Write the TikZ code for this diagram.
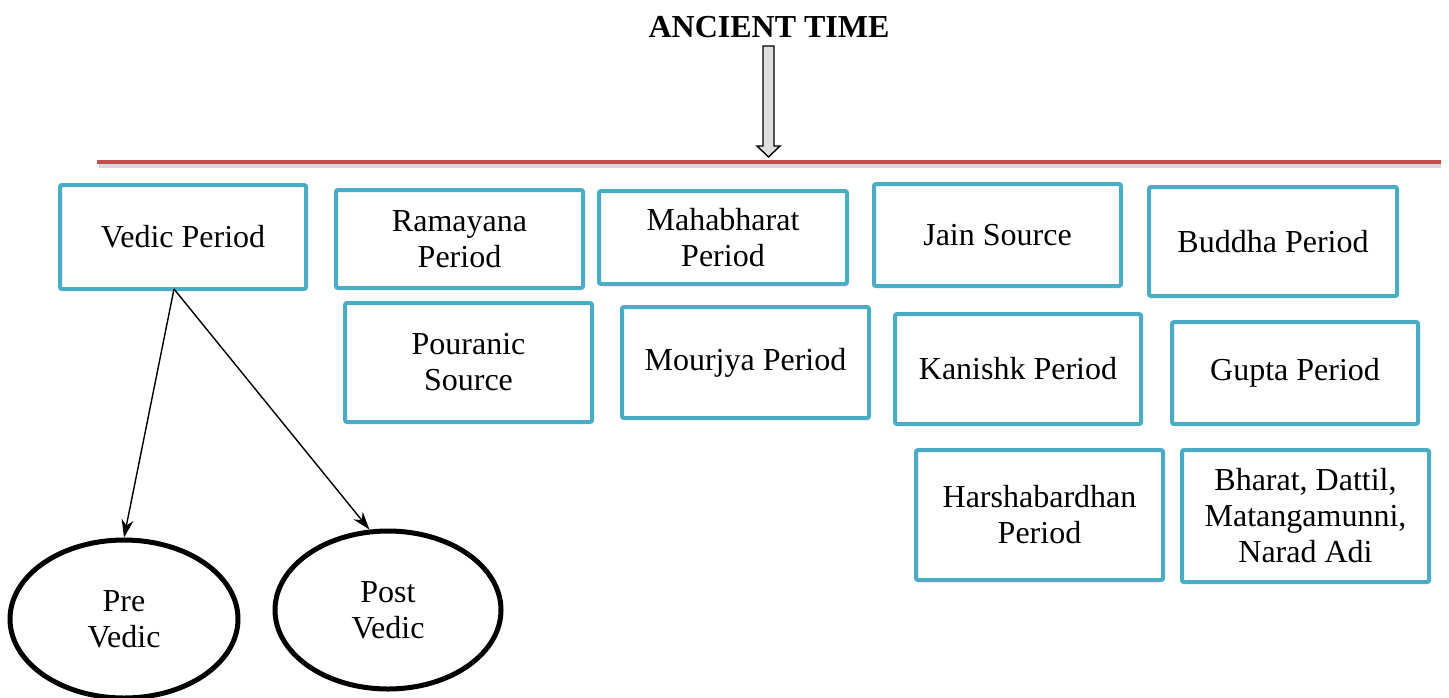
\documentclass[tikz,border=0pt]{standalone}
\usepackage{fontspec}
\setmainfont{Liberation Serif}
\usetikzlibrary{shapes.geometric,arrows.meta}
\definecolor{boxblue}{RGB}{75,172,198}
\definecolor{linered}{RGB}{192,80,77}
\tikzset{
  period/.style={draw=boxblue, line width=2pt, rounded corners=1pt, align=center,
    inner sep=0pt, font=\fontsize{16}{18}\selectfont},
  vedic/.style={draw=black, line width=2.5pt, ellipse, align=center, inner sep=0pt,
    font=\fontsize{16}{18}\selectfont},
  link/.style={line width=0.7pt, -{Stealth[length=9pt,width=6pt]}}
}
\begin{document}
\begin{tikzpicture}[x=0.5pt,y=-0.5pt]
\useasboundingbox (0,0) rectangle (1449,697);

% heading and its hollow arrow
\node[font=\bfseries\fontsize{16}{18}\selectfont] (title) at (769,27) {ANCIENT TIME};
\draw[line width=0.7pt, fill=gray!25]
  (763,46) -- (774,46) -- (774,146) -- (780,146) -- (768.5,157) -- (757,146) -- (763,146) -- cycle;

% horizontal rule with its shadow
\draw[gray!30, line width=2pt] (99,166) -- (1441,166);
\draw[linered, line width=2pt] (97,162) -- (1441,162);

% first row of boxes
\node[period, minimum width=123pt, minimum height=52pt] (vp) at (183,237) {Vedic Period};
\node[period, minimum width=123.5pt, minimum height=49pt] (ram) at (459.5,239) {Ramayana\\Period};
\node[period, minimum width=124pt, minimum height=46.5pt] (mah) at (723,237.5) {Mahabharat\\Period};
\node[period, minimum width=123.5pt, minimum height=51pt] (jain) at (997.5,235) {Jain Source};
\node[period, minimum width=124pt, minimum height=54.5pt] (bud) at (1273,241.5) {Buddha Period};

% second row of boxes
\node[period, minimum width=123.5pt, minimum height=59.5pt] (pou) at (468.5,362.5) {Pouranic\\Source};
\node[period, minimum width=123.5pt, minimum height=55.5pt] (mou) at (745.5,362.5) {Mourjya Period};
\node[period, minimum width=123pt, minimum height=55pt] (kan) at (1018,369) {Kanishk Period};
\node[period, minimum width=123pt, minimum height=51pt] (gup) at (1295,373) {Gupta Period};

% third row of boxes
\node[period, minimum width=123.5pt, minimum height=65pt] (har) at (1039.5,515) {Harshabardhan\\Period};
\node[period, minimum width=123.5pt, minimum height=66pt] (bha) at (1305.5,516) {Bharat, Dattil,\\Matangamunni,\\Narad Adi};

% sub-periods of the Vedic period
\node[vedic, minimum width=114pt, minimum height=79pt] (pre) at (124,619) {Pre\\Vedic};
\node[vedic, minimum width=113pt, minimum height=79pt] (post) at (388,610) {Post\\Vedic};

\coordinate (vfoot) at (174,289);
\draw[link] (vfoot) -- (pre.north);
\draw[link] (vfoot) -- (post.103);
\end{tikzpicture}
\end{document}
